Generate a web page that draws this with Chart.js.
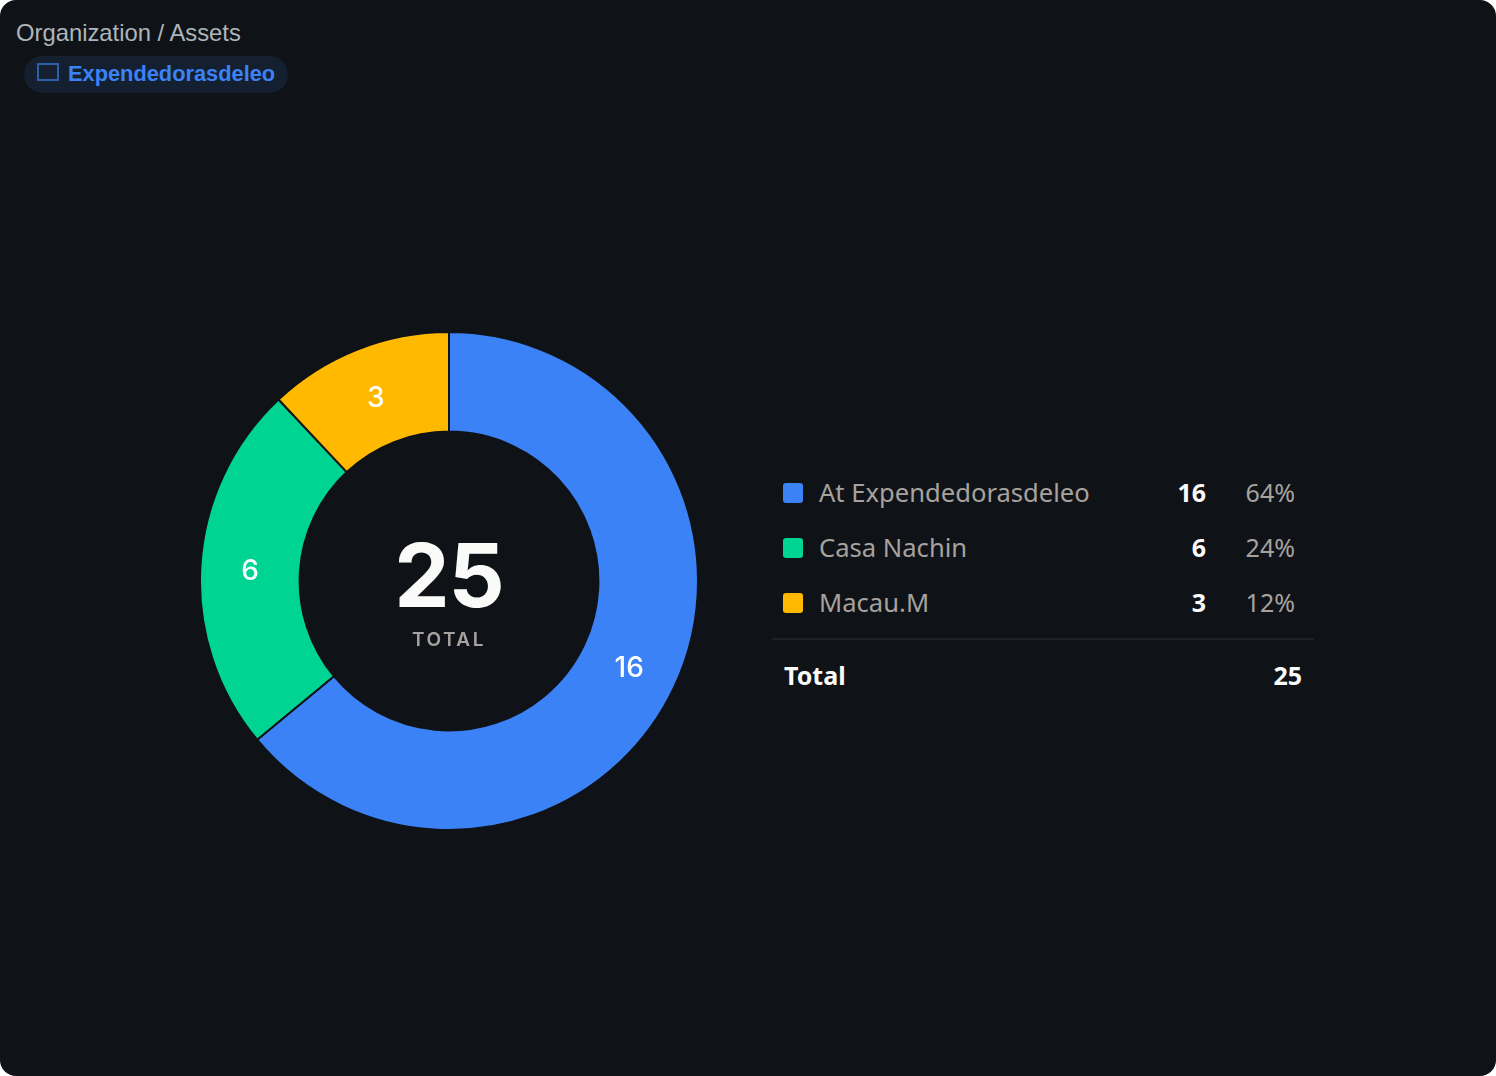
<!DOCTYPE html>
<html>
<head>
<meta charset="utf-8">
<script src="https://cdn.jsdelivr.net/npm/chart.js@4.4.1/dist/chart.umd.min.js"></script>
<style>
  html, body { margin: 0; padding: 0; background: #ffffff; }
  .card {
    position: relative;
    width: 1496px;
    height: 1076px;
    background: #0f1317;
    border-radius: 16px;
    overflow: hidden;
    font-family: 'Noto Sans', sans-serif;
  }
  .crumb {
    position: absolute; left: 16px; top: 19px;
    font-family: 'Liberation Sans', Arial, sans-serif;
    font-size: 23.8px; color: #aeb5bb;
  }
  .pill {
    position: absolute; left: 24px; top: 56px;
    width: 264px; height: 37px;
    border-radius: 19px;
    background: #142030;
  }
  .pill .icon {
    position: absolute; left: 13px; top: 7px;
    width: 18px; height: 14px;
    border: 2px solid #2d5ea8;
  }
  .pill .name {
    position: absolute; left: 44px; top: 5px;
    font-family: 'Liberation Sans', Arial, sans-serif;
    font-weight: bold; font-size: 21.8px; color: #3b82f6;
  }
  .chart-box {
    position: absolute; left: 199px; top: 331px;
    width: 500px; height: 500px;
  }
  .center-num {
    position: absolute; left: 349px; width: 200px; top: 522px;
    text-align: center;
    font-family: Inter, sans-serif; font-weight: 700;
    font-size: 88px; color: #fafaf9; letter-spacing: -1px;
  }
  .center-lbl {
    position: absolute; left: 349px; width: 200px; top: 628px;
    text-align: center;
    font-family: Inter, sans-serif; font-weight: 600;
    font-size: 19px; color: #a8a29e; letter-spacing: 2.5px;
  }
  .row { position: absolute; left: 783px; width: 530px; height: 40px; }
  .row .sw { position: absolute; left: 0; top: 10px; width: 20px; height: 20px; border-radius: 3px; }
  .row .lbl { position: absolute; left: 36px; top: 2px; font-size: 25.6px; color: #a8a29e; white-space: nowrap; }
  .row .val { position: absolute; right: 107px; top: 2px; font-size: 25px; font-weight: 700; color: #fafaf9; }
  .row .pct { position: absolute; right: 18px; top: 2px; font-size: 25px; color: #a8a29e; }
  .divider { position: absolute; left: 772px; top: 638px; width: 542px; height: 2px; background: #1c2228; }
  .total-lbl { position: absolute; left: 784px; top: 658px; font-size: 25px; font-weight: 700; color: #fafaf9; }
  .total-val { position: absolute; left: 1202px; width: 100px; text-align: right; top: 658px; font-size: 25px; font-weight: 700; color: #fafaf9; }
</style>
</head>
<body>
<div class="card" id="card">
  <div class="crumb">Organization / Assets</div>
  <div class="pill"><div class="icon"></div><div class="name">Expendedorasdeleo</div></div>
  <div class="chart-box"><canvas id="chartAssets"></canvas></div>
  <div class="center-num" id="centerNum"></div>
  <div class="center-lbl">TOTAL</div>
  <div id="legend"></div>
  <div class="divider"></div>
  <div class="total-lbl">Total</div>
  <div class="total-val" id="totalVal"></div>
</div>
<script>
  // ===== Data =====
  const locations = ['At Expendedorasdeleo', 'Casa Nachin', 'Macau.M'];
  const assetCounts = [16, 6, 3];
  const sliceColors = ['#3b82f6', '#00d492', '#ffb900'];

  const total = assetCounts.reduce((a, b) => a + b, 0);

  // ===== Center + Legend =====
  document.getElementById('centerNum').textContent = total;
  document.getElementById('totalVal').textContent = total;

  const legend = document.getElementById('legend');
  locations.forEach((name, i) => {
    const row = document.createElement('div');
    row.className = 'row';
    row.style.top = (473 + i * 55) + 'px';
    const pct = Math.round((assetCounts[i] / total) * 100);
    row.innerHTML =
      `<div class="sw" style="background:${sliceColors[i]}"></div>` +
      `<div class="lbl">${name}</div>` +
      `<div class="val">${assetCounts[i]}</div>` +
      `<div class="pct">${pct}%</div>`;
    legend.appendChild(row);
  });

  // ===== Slice value labels =====
  const sliceLabels = {
    id: 'sliceLabels',
    afterDatasetsDraw(chart) {
      const ctx = chart.ctx;
      const meta = chart.getDatasetMeta(0);
      ctx.save();
      ctx.font = "500 28px Inter, sans-serif";
      ctx.fillStyle = '#ffffff';
      ctx.textAlign = 'center';
      ctx.textBaseline = 'middle';
      meta.data.forEach((arc, i) => {
        const p = arc.getCenterPoint();
        ctx.fillText(String(chart.data.datasets[0].data[i]), p.x, p.y + 3);
      });
      ctx.restore();
    },
  };

  // ===== Chart =====
  const ctxAssets = document.getElementById('chartAssets').getContext('2d');
  new Chart(ctxAssets, {
    type: 'doughnut',
    data: {
      labels: locations,
      datasets: [{
        data: assetCounts,
        backgroundColor: sliceColors,
        borderColor: '#0f1317',
        borderWidth: 2,
      }],
    },
    options: {
      responsive: true,
      maintainAspectRatio: false,
      animation: false,
      cutout: '60%',
      plugins: {
        legend: { display: false },
        tooltip: { enabled: false },
      },
    },
    plugins: [sliceLabels],
  });
</script>
</body>
</html>
